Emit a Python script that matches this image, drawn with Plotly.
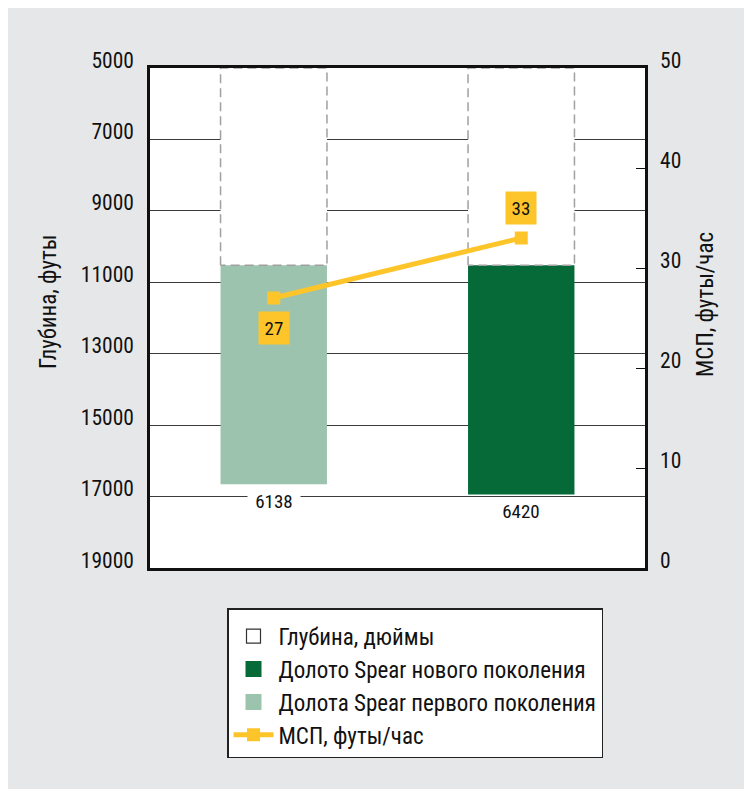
import plotly.graph_objects as go

# ---- data ----
positions = [0, 1]                       # bar slots (first generation, new generation)
depth_top = [10520, 10520]               # top of drilled interval, ft
interval_len = [6138, 6420]              # drilled interval length, ft
rop = [27, 33]                           # ROP, ft/h
depth_ticks = [5000, 7000, 9000, 11000, 13000, 15000, 17000, 19000]
depth_labels = [str(v) for v in depth_ticks]
rop_ticks = [0, 10, 20, 30, 40, 50]
legend_names = ["Глубина, дюймы", "Долото Spear нового поколения",
                "Долота Spear первого поколения", "МСП, футы/час"]

FONT = "Roboto Condensed, Roboto, sans-serif"
LIGHT = "#9cc3ae"
DARK = "#056a38"
YEL = "#fec52a"
BG = "#e6e7e9"
DASH = "#a0a0a0"
BARW = 0.43
D0 = depth_ticks[0]

OFF = 8  # page body margin
W, H = 752, 789
L, T = 150 - OFF, 68 - OFF
R = W - (645 - OFF)
B = H - (568 - OFF)
pw, ph = W - L - R, H - T - B

def px_x(px):
    return (px - OFF - L) / pw

def px_y(py):
    return (H - B - (py - OFF)) / ph

fig = go.Figure()

# white "depth" boxes above each interval
fig.add_trace(go.Bar(x=positions, base=[D0, D0], y=[t - D0 for t in depth_top],
                     width=BARW, marker=dict(color="white", line=dict(width=0)),
                     showlegend=False, hoverinfo="skip"))
# drilled intervals
fig.add_trace(go.Bar(x=[positions[0]], base=[depth_top[0]], y=[interval_len[0]],
                     width=BARW, marker=dict(color=LIGHT, line=dict(width=0)),
                     showlegend=False))
fig.add_trace(go.Bar(x=[positions[1]], base=[depth_top[1]], y=[interval_len[1]],
                     width=BARW, marker=dict(color=DARK, line=dict(width=0)),
                     showlegend=False))

# dashed outlines of depth boxes
ox, oy = [], []
for p, t in zip(positions, depth_top):
    x0, x1 = p - BARW / 2, p + BARW / 2
    ox += [x0, x0, x1, x1, x0, None]
    oy += [t, D0, D0, t, t, None]
fig.add_trace(go.Scatter(x=ox, y=oy, mode="lines",
                         line=dict(color=DASH, width=1.5, dash="9px,5px"),
                         showlegend=False, hoverinfo="skip"))

# legend entries
fig.add_trace(go.Scatter(x=[None], y=[None], mode="markers", name=legend_names[0],
                         marker=dict(symbol="square-open", size=14, color="#333",
                                     line=dict(width=1.2)),
                         legendgroup="a"))
fig.add_trace(go.Scatter(x=[None], y=[None], mode="markers", name=legend_names[1],
                         marker=dict(symbol="square", size=16, color=DARK),
                         legendgroup="b"))
fig.add_trace(go.Scatter(x=[None], y=[None], mode="markers", name=legend_names[2],
                         marker=dict(symbol="square", size=16, color=LIGHT),
                         legendgroup="c"))
# ROP line
fig.add_trace(go.Scatter(x=positions, y=rop, yaxis="y2", mode="lines+markers",
                         name=legend_names[3], legendgroup="d",
                         line=dict(color=YEL, width=5),
                         marker=dict(symbol="square", size=13, color=YEL)))

annotations = []
for p, v, s in zip(positions, rop, [-30, 30]):
    annotations.append(dict(x=p, y=v, xref="x", yref="y2", text=str(v), showarrow=False,
                            yshift=s, bgcolor=YEL, width=28, height=30,
                            font=dict(family=FONT, size=19, color="#111")))
for p, t, ln in zip(positions, depth_top, interval_len):
    annotations.append(dict(x=p, y=t + ln, xref="x", yref="y", text=str(ln), showarrow=False,
                            yshift=-17, bgcolor="white", width=50, height=20,
                            font=dict(family=FONT, size=19, color="#111")))
annotations.append(dict(x=px_x(48), y=px_y(302), xref="paper", yref="paper",
                        xanchor="center", yanchor="middle",
                        text="Глубина, футы", textangle=-90, showarrow=False,
                        font=dict(family=FONT, size=23, color="#111")))
annotations.append(dict(x=px_x(705), y=px_y(305), xref="paper", yref="paper",
                        xanchor="center", yanchor="middle",
                        text="МСП, футы/час", textangle=-90, showarrow=False,
                        font=dict(family=FONT, size=23, color="#111")))

fig.update_layout(
    width=W, height=H,
    margin=dict(l=L, r=R, t=T, b=B, pad=0),
    paper_bgcolor=BG, plot_bgcolor="white",
    barmode="overlay",
    font=dict(family=FONT, size=21, color="#111"),
    showlegend=True,
    legend=dict(x=px_x(227), y=px_y(608), xanchor="left", yanchor="top",
                bgcolor="white", bordercolor="#222", borderwidth=1.5,
                font=dict(family=FONT, size=23, color="#111"),
                title=dict(text=" ", font=dict(size=4)),
                traceorder="grouped", tracegroupgap=0, itemwidth=40),
    xaxis=dict(range=[-0.5, 1.5], showticklabels=False, ticks="", showgrid=False,
               zeroline=False, showline=True, mirror=True, linecolor="#111", linewidth=2.5),
    yaxis=dict(range=[depth_ticks[-1], depth_ticks[0]], tickvals=depth_ticks,
               ticktext=depth_labels,
               ticks="", showgrid=True, gridcolor="#3a3a3a", gridwidth=1.3,
               zeroline=False, showline=True, mirror=True, linecolor="#111", linewidth=2.5,
               ticklabelstandoff=9, ticklabelshift=8,
               tickfont=dict(family=FONT, size=21.5, color="#111")),
    yaxis2=dict(range=[rop_ticks[0], rop_ticks[-1]], tickvals=rop_ticks, overlaying="y",
                side="right", showgrid=False, zeroline=False, ticks="inside", ticklen=9,
                tickwidth=1.3, tickcolor="#111", showline=True, linecolor="#111",
                linewidth=2.5, ticklabelstandoff=8, ticklabelshift=-8,
                tickfont=dict(family=FONT, size=21.5, color="#111")),
    annotations=annotations,
)

fig.write_html("out.html")
